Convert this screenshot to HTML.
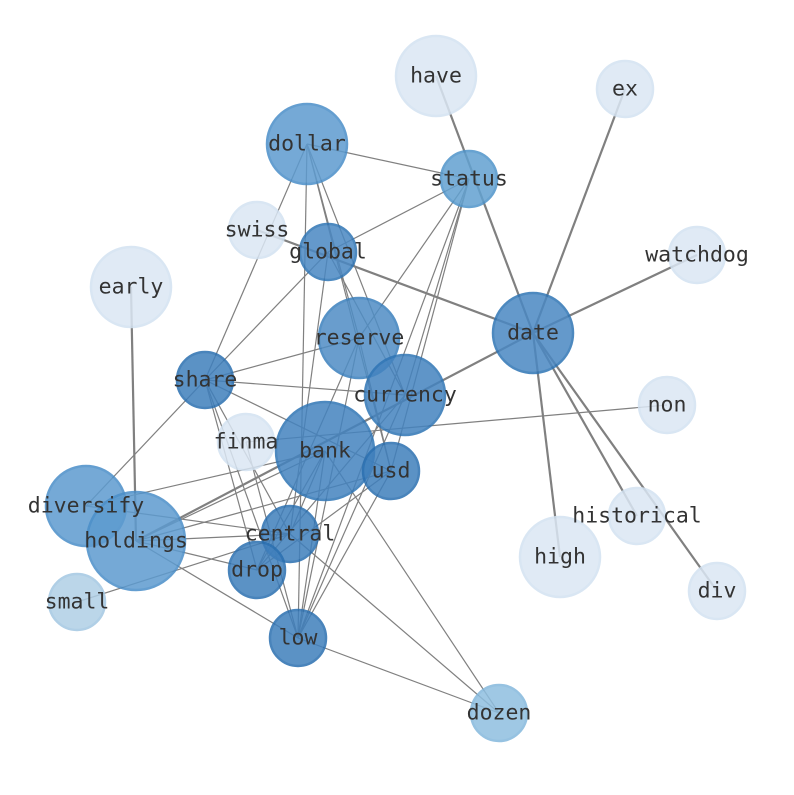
<!DOCTYPE html>
<html><head><meta charset="utf-8"><style>
html,body{margin:0;padding:0;background:#fff;}
svg text{font-family:"DejaVu Sans Mono","Liberation Mono",monospace;font-size:21.5px;fill:#333;text-anchor:middle;dominant-baseline:central;}
</style></head><body>
<svg width="794" height="790" viewBox="0 0 794 790" xmlns="http://www.w3.org/2000/svg">
<g stroke="#808080" stroke-width="2.2" fill="none">
<line x1="436" y1="76" x2="533" y2="333"/>
<line x1="625" y1="89" x2="533" y2="333"/>
<line x1="697" y1="255" x2="533" y2="333"/>
<line x1="257" y1="230" x2="533" y2="333"/>
<line x1="136" y1="541" x2="533" y2="333"/>
<line x1="560" y1="557" x2="533" y2="333"/>
<line x1="637" y1="516" x2="533" y2="333"/>
<line x1="717" y1="591" x2="533" y2="333"/>
<line x1="131" y1="287" x2="136" y2="541"/>
</g>
<g stroke="#808080" stroke-width="1.2" fill="none">
<line x1="307" y1="144" x2="469" y2="179"/>
<line x1="307" y1="144" x2="359" y2="338"/>
<line x1="307" y1="144" x2="405" y2="395"/>
<line x1="307" y1="144" x2="391" y2="471"/>
<line x1="307" y1="144" x2="205" y2="380"/>
<line x1="307" y1="144" x2="298" y2="638"/>
<line x1="469" y1="179" x2="328" y2="252"/>
<line x1="469" y1="179" x2="359" y2="338"/>
<line x1="469" y1="179" x2="405" y2="395"/>
<line x1="469" y1="179" x2="391" y2="471"/>
<line x1="469" y1="179" x2="298" y2="638"/>
<line x1="328" y1="252" x2="205" y2="380"/>
<line x1="328" y1="252" x2="405" y2="395"/>
<line x1="328" y1="252" x2="290" y2="534"/>
<line x1="205" y1="380" x2="359" y2="338"/>
<line x1="205" y1="380" x2="405" y2="395"/>
<line x1="205" y1="380" x2="391" y2="471"/>
<line x1="205" y1="380" x2="290" y2="534"/>
<line x1="205" y1="380" x2="257" y2="570"/>
<line x1="205" y1="380" x2="298" y2="638"/>
<line x1="205" y1="380" x2="86" y2="506"/>
<line x1="246" y1="442" x2="298" y2="638"/>
<line x1="246" y1="442" x2="667" y2="405"/>
<line x1="86" y1="506" x2="325" y2="451"/>
<line x1="86" y1="506" x2="290" y2="534"/>
<line x1="136" y1="541" x2="325" y2="451"/>
<line x1="136" y1="541" x2="290" y2="534"/>
<line x1="136" y1="541" x2="257" y2="570"/>
<line x1="136" y1="541" x2="298" y2="638"/>
<line x1="136" y1="541" x2="391" y2="471"/>
<line x1="77" y1="602" x2="290" y2="534"/>
<line x1="325" y1="451" x2="290" y2="534"/>
<line x1="325" y1="451" x2="257" y2="570"/>
<line x1="325" y1="451" x2="298" y2="638"/>
<line x1="325" y1="451" x2="499" y2="713"/>
<line x1="359" y1="338" x2="298" y2="638"/>
<line x1="359" y1="338" x2="257" y2="570"/>
<line x1="359" y1="338" x2="391" y2="471"/>
<line x1="405" y1="395" x2="298" y2="638"/>
<line x1="405" y1="395" x2="257" y2="570"/>
<line x1="391" y1="471" x2="298" y2="638"/>
<line x1="391" y1="471" x2="257" y2="570"/>
<line x1="290" y1="534" x2="499" y2="713"/>
<line x1="298" y1="638" x2="499" y2="713"/>
</g>
<g stroke-width="2.5">
<circle cx="436" cy="76" r="40" fill="#dbe7f4" stroke="#d3e2f1" opacity="0.85"/>
<circle cx="625" cy="89" r="28" fill="#dbe7f4" stroke="#d3e2f1" opacity="0.85"/>
<circle cx="257" cy="230" r="28" fill="#dbe7f4" stroke="#d3e2f1" opacity="0.85"/>
<circle cx="697" cy="255" r="28" fill="#dbe7f4" stroke="#d3e2f1" opacity="0.85"/>
<circle cx="131" cy="287" r="40" fill="#dbe7f4" stroke="#d3e2f1" opacity="0.85"/>
<circle cx="667" cy="405" r="28" fill="#dbe7f4" stroke="#d3e2f1" opacity="0.85"/>
<circle cx="246" cy="442" r="28" fill="#dbe7f4" stroke="#d3e2f1" opacity="0.85"/>
<circle cx="637" cy="516" r="28" fill="#dbe7f4" stroke="#d3e2f1" opacity="0.85"/>
<circle cx="560" cy="557" r="40" fill="#dbe7f4" stroke="#d3e2f1" opacity="0.85"/>
<circle cx="717" cy="591" r="28" fill="#dbe7f4" stroke="#d3e2f1" opacity="0.85"/>
<circle cx="77" cy="602" r="28" fill="#b0cfe6" stroke="#a3c7e2" opacity="0.85"/>
<circle cx="499" cy="713" r="28" fill="#8fbfe0" stroke="#84b8dc" opacity="0.85"/>
<circle cx="307" cy="144" r="40" fill="#5d9bcf" stroke="#4a8ec8" opacity="0.85"/>
<circle cx="469" cy="179" r="28" fill="#62a1d1" stroke="#4e93c9" opacity="0.85"/>
<circle cx="328" cy="252" r="28" fill="#4a88c2" stroke="#2f75b5" opacity="0.85"/>
<circle cx="533" cy="333" r="40" fill="#4a88c2" stroke="#2f75b5" opacity="0.85"/>
<circle cx="359" cy="338" r="40" fill="#4f8dc5" stroke="#3a7fbd" opacity="0.85"/>
<circle cx="205" cy="380" r="28" fill="#3f7fbc" stroke="#2a6fb0" opacity="0.85"/>
<circle cx="405" cy="395" r="40" fill="#4483bf" stroke="#2f75b5" opacity="0.85"/>
<circle cx="325" cy="451" r="49" fill="#4483bf" stroke="#2f75b5" opacity="0.85"/>
<circle cx="391" cy="471" r="28" fill="#3f7fbc" stroke="#2a6fb0" opacity="0.85"/>
<circle cx="86" cy="506" r="40" fill="#5d9bcf" stroke="#4a8ec8" opacity="0.85"/>
<circle cx="136" cy="541" r="49" fill="#5d9bcf" stroke="#4a8ec8" opacity="0.85"/>
<circle cx="290" cy="534" r="28" fill="#3f7fbc" stroke="#2a6fb0" opacity="0.85"/>
<circle cx="257" cy="570" r="28" fill="#3f7fbc" stroke="#2a6fb0" opacity="0.85"/>
<circle cx="298" cy="638" r="28" fill="#3f7fbc" stroke="#2a6fb0" opacity="0.85"/>
</g>
<text x="436" y="76">have</text>
<text x="625" y="89">ex</text>
<text x="307" y="144">dollar</text>
<text x="469" y="179">status</text>
<text x="257" y="230">swiss</text>
<text x="328" y="252">global</text>
<text x="697" y="255">watchdog</text>
<text x="131" y="287">early</text>
<text x="533" y="333">date</text>
<text x="359" y="338">reserve</text>
<text x="205" y="380">share</text>
<text x="405" y="395">currency</text>
<text x="667" y="405">non</text>
<text x="246" y="442">finma</text>
<text x="325" y="451">bank</text>
<text x="391" y="471">usd</text>
<text x="86" y="506">diversify</text>
<text x="136" y="541">holdings</text>
<text x="637" y="516">historical</text>
<text x="290" y="534">central</text>
<text x="560" y="557">high</text>
<text x="257" y="570">drop</text>
<text x="717" y="591">div</text>
<text x="77" y="602">small</text>
<text x="298" y="638">low</text>
<text x="499" y="713">dozen</text>
</svg>
</body></html>
